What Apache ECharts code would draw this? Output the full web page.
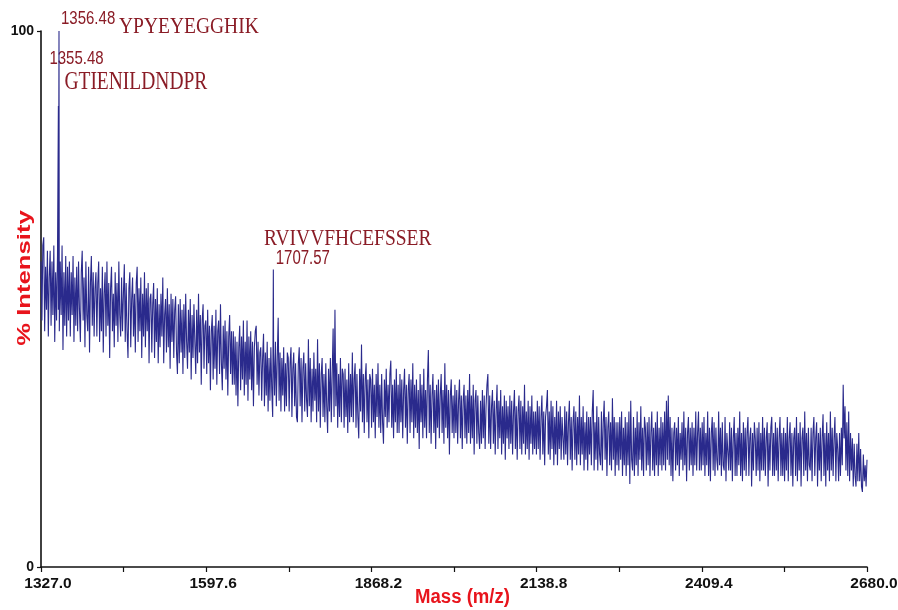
<!DOCTYPE html>
<html>
<head>
<meta charset="utf-8">
<script src="https://cdn.jsdelivr.net/npm/echarts@6/dist/echarts.min.js"></script>
<style>
  html, body { margin: 0; padding: 0; background: #fff; }
  #chart { width: 898px; height: 610px; }
</style>
</head>
<body>
<div id="chart"></div>
<script>
// MALDI-TOF spectrum, % intensity sampled every 1.5 m/z from 1327.0 to 2680.0
const massStart = 1327.0;
const massStep = 1.5;

// 1327.0 – 1550.5
const spectrumA = [
  57, 46, 60, 61.5, 44, 56, 48, 59, 43, 54,  59, 45, 57, 47, 60, 42, 55, 46, 58, 48,  44, 57, 47, 60, 40.5, 55, 45, 58, 43, 56,
  46, 57, 43, 55, 47, 58, 42, 54, 45, 56,  44, 57, 48, 42, 55, 59, 46, 54, 41, 57,  47, 44, 56, 40, 53, 58, 45, 55, 43, 52,
  55, 43, 53, 57, 42, 52, 44, 56, 40, 51,  55, 43, 57, 45, 53, 39, 52, 56, 44, 51,  41, 55, 45, 53, 42, 57, 47, 43, 54, 44,
  51, 56.5, 42, 53, 44, 39, 52, 55, 41, 50,  54, 43, 51, 40, 53, 56, 42, 52, 44, 54,  39, 51, 43, 55, 41, 52, 44, 53, 38, 50,
  51, 40, 49, 53, 39, 50, 42, 52, 38, 49,  41, 51, 43, 54, 38, 47, 50, 40, 52, 41,  49, 37, 51, 42, 50, 39, 48, 50.5, 40, 36
];
// 1552.0 – 1775.5
const spectrumB = [
  49, 38, 50, 40, 48, 36, 49, 39, 51, 42,  37, 48, 40, 50, 35, 47, 39, 49, 42, 36,  48, 38, 51, 40, 47, 34, 46, 49, 37, 45,
  46, 36, 48, 38, 45, 33, 44, 47, 35, 45,  37, 48, 34, 44, 46, 36, 49, 38, 33, 45,  37, 46, 35, 44, 32, 43, 47, 36, 44, 34,
  44, 34, 43, 32, 42, 30, 41, 45, 33, 43,  35, 46, 32, 42, 34, 46, 31, 43, 35, 44,  33, 42, 30, 41, 44, 45, 34, 42, 32, 40,
  41, 31, 39, 43.5, 30, 40, 32, 42, 29, 39,  31, 41, 33, 28, 40, 32, 42, 30, 39, 46.5,  31, 40, 29, 39, 32, 41, 29, 38, 30, 40,
  39, 29, 38, 41, 28, 37, 40, 30, 38, 28,  27, 38, 41, 30, 39, 27, 37, 40, 29, 38,  31, 28, 42.5, 30, 39, 27, 37, 29, 40, 31
];
// 1777.0 – 2000.5
const spectrumC = [
  37, 27, 42.5, 29, 38, 26, 36, 39, 28, 36,  27, 38, 30, 25, 37, 29, 39, 27, 36, 44.5,  28, 48, 30, 38, 26, 36, 28, 39, 27, 37,
  36, 26, 37, 28, 35, 25, 38, 27, 36, 28,  40, 27, 35, 38, 26, 36, 28, 24, 37, 29,  41.5, 27, 36, 25, 35, 38, 27, 35, 24, 36,
  35, 26, 37, 27, 34, 24, 36, 28, 38, 26,  34, 25, 36, 27, 23, 35, 28, 37, 26, 34,  27, 36, 38.5, 26, 34, 24, 35, 27, 37, 25,
  34, 25, 36, 27, 35, 24, 33, 37, 26, 34,  23, 33, 36, 25, 35, 27, 38, 24, 34, 26,  35, 25, 33, 22, 36, 27, 34, 24, 37, 26,
  33, 24, 35, 40.5, 25, 34, 23, 32, 36, 25,  33, 22, 34, 26, 35, 24, 32, 36, 25, 33,  23, 38, 26, 34, 24, 33, 21, 32, 35, 25
];
// 2002.0 – 2225.5
const spectrumD = [
  32, 24, 34, 25, 33, 23, 31, 35, 24, 32,  22, 31, 34, 24, 32, 23, 33, 25, 36, 23,  32, 24, 34, 21, 31, 33, 23, 32, 25, 22,
  31, 23, 33, 24, 32, 22, 30, 34, 36, 23,  32, 22, 30, 33, 23, 31, 21, 29, 34, 22,  31, 24, 33, 21, 30, 23, 32, 20, 31, 24,
  30, 22, 32, 23, 31, 21, 29, 33, 22, 30,  20, 29, 32, 22, 31, 21, 30, 23, 34, 21,  29, 22, 31, 20, 30, 23, 32, 21, 29, 22,
  29, 21, 31, 22, 30, 20, 28, 32, 21, 29,  19, 28, 30, 33, 21, 29, 20, 31, 22, 30,  19, 28, 21, 31, 19, 29, 22, 30, 20, 28,
  28, 20, 30, 21, 29, 19, 27, 31, 20, 28,  18, 27, 30, 20, 29, 19, 28, 21, 32, 19,  28, 21, 30, 18, 27, 20, 29, 18, 28, 21
];
// 2227.0 – 2450.5
const spectrumE = [
  28, 19, 29, 33, 18, 27, 20, 30, 18, 28,  21, 19, 29, 18, 27, 31, 20, 28, 17, 26,  29, 19, 27, 18, 31.5, 20, 28, 17, 27, 19,
  27, 18, 28, 20, 29, 17, 26, 19, 28, 17,  27, 19, 29, 15.5, 31, 20, 18, 28, 17, 26,  19, 29, 17, 27, 20, 30, 18, 26, 17, 28,
  26, 18, 27, 19, 28, 17, 25, 29, 18, 26,  17, 27, 19, 29, 17, 26, 19, 28, 18, 27,  19, 29, 18, 31, 20, 32, 19, 28, 17, 26,
  16, 25, 27, 18, 26, 19, 28, 17, 25, 20,  27, 18, 29, 19, 26, 16, 25, 28, 18, 26,  19, 27, 17, 26, 19, 29, 18, 25, 29, 18,
  26, 18, 27, 19, 28, 17, 25, 19, 29, 17,  26, 16, 25, 28, 18, 27, 17, 26, 20, 18,  29, 19, 26, 17, 27, 19, 18, 28, 16, 25
];
// 2452.0 – 2680.0
const spectrumF = [
  25, 18, 27, 18, 26, 16, 24, 28, 17, 25,  17, 26, 19, 29, 17, 25, 16, 27, 18, 26,  17, 25, 28, 17, 24, 26, 15, 25, 18, 27,
  24, 17, 26, 18, 27, 16, 25, 18, 28, 18,  26, 17, 24, 27, 15, 25, 18, 26, 28, 17,  25, 17, 27, 18, 26, 16, 24, 28, 17, 25,
  17, 26, 16, 25, 18, 28, 16, 24, 27, 17,  25, 15, 24, 26, 17, 28, 16, 25, 18, 27,  15, 24, 26, 17, 29, 18, 25, 16, 26, 19,
  18, 26, 16, 25, 28, 17, 24, 27, 15, 25,  18, 26, 16, 24, 28.5, 17, 25, 15, 27, 18,  25, 16, 29, 18, 26, 17, 24, 28, 16, 25,
  22, 16, 25, 17, 26, 19, 34, 24, 30, 18,  27, 17, 29, 16, 25, 18, 24, 15, 23, 17,  15, 23, 16, 25, 16, 22, 15, 14, 21, 16,
  19, 15, 20
];

// identified peptide peaks
const peakMass = [1355.48, 1356.48, 1707.57];
const peakIntensity = [86, 100, 55.5];
const peakPeptide = ['GTIENILDNDPR', 'YPYEYEGGHIK', 'RVIVVFHCEFSSER'];

// axis ticks
const xTickMass = [1327.0, 1462.3, 1597.6, 1732.9, 1868.2, 2003.5, 2138.8, 2274.1, 2409.4, 2544.7, 2680.0];
const xLabelMass = [1327.0, 1597.6, 1868.2, 2138.8, 2409.4, 2680.0];
const yLabelValues = [0, 100];

const INK = '#2a2a8c';
const RED = '#e8141c';
const MAROON = '#8a1c26';

// merge sampled trace and the annotated peaks into one ordered trace
const sampled = [].concat(spectrumA, spectrumB, spectrumC, spectrumD, spectrumE, spectrumF)
  .map((v, i) => [massStart + i * massStep, v]);
const peaks = peakMass.map((m, i) => [m, peakIntensity[i]]);
const trace = sampled.concat(peaks).sort((a, b) => a[0] - b[0]);

const chart = echarts.init(document.getElementById('chart'), null, { renderer: 'canvas' });

chart.setOption({
  animation: false,
  backgroundColor: '#fff',
  grid: { left: 41, right: 31, top: 31, bottom: 43, containLabel: false, outerBoundsMode: 'none' },
  xAxis: {
    type: 'value',
    min: 1327.0,
    max: 2680.0,
    axisLine: { show: true, onZero: false, lineStyle: { color: '#111', width: 1.6 } },
    axisTick: { show: true, customValues: xTickMass, length: 5, lineStyle: { color: '#111', width: 1.2 } },
    axisLabel: {
      customValues: xLabelMass,
      formatter: v => v.toFixed(1),
      color: '#111',
      fontWeight: 'bold',
      fontSize: 15.5,
      fontFamily: '"Liberation Sans", sans-serif',
      margin: 9,
      padding: [0, 0, 0, 14]
    },
    splitLine: { show: false }
  },
  yAxis: {
    type: 'value',
    min: 0,
    max: 100,
    axisLine: { show: true, lineStyle: { color: '#111', width: 1.6 } },
    axisTick: { show: true, customValues: yLabelValues, length: 4, lineStyle: { color: '#111', width: 1.2 } },
    axisLabel: {
      customValues: yLabelValues,
      color: '#111',
      fontWeight: 'bold',
      fontSize: 14,
      fontFamily: '"Liberation Sans", sans-serif',
      margin: 7
    },
    splitLine: { show: false }
  },
  series: [{
    type: 'line',
    data: trace,
    showSymbol: false,
    symbol: 'none',
    sampling: false,
    lineStyle: { color: INK, width: 1.1, join: 'bevel' },
    silent: true
  }]
});

// annotations placed from the peak positions on the axes
function toPx(m, v) { return chart.convertToPixel({ gridIndex: 0 }, [m, v]); }
const pTop = toPx(peakMass[1], peakIntensity[1]);
const pLow = toPx(peakMass[0], peakIntensity[0]);
const pMid = toPx(peakMass[2], peakIntensity[2]);

const massFont = '15px "Liberation Sans", sans-serif';
const pepFont = '19.5px "Liberation Serif", serif';

function label(text, x, y, font, sy) {
  return {
    type: 'text', x: x, y: y, scaleY: sy, silent: true,
    style: { text: text, font: font, fill: MAROON, align: 'left', verticalAlign: 'middle', textAlign: 'left', textVerticalAlign: 'middle' }
  };
}

chart.setOption({
  graphic: [
    label(peakMass[1].toFixed(2), pTop[0] + 2, pTop[1] - 12, massFont, 1.22),
    label(peakPeptide[1], pTop[0] + 60, pTop[1] - 4.5, pepFont, 1.2),
    label(peakMass[0].toFixed(2), pLow[0] - 9, pTop[1] + 27.5, massFont, 1.22),
    label(peakPeptide[0], pLow[0] + 6, pTop[1] + 52, pepFont, 1.25),
    label(peakPeptide[2], pMid[0] - 9.3, pMid[1] - 30.5, pepFont, 1.15),
    label(peakMass[2].toFixed(2), pMid[0] + 2.4, pMid[1] - 10.5, massFont, 1.3),
    {
      type: 'text', x: 25, y: 278, rotation: Math.PI / 2, scaleX: 1.35, silent: true,
      style: { text: '% Intensity', font: 'bold 19px "Liberation Sans", sans-serif', fill: RED,
               align: 'center', verticalAlign: 'middle', textAlign: 'center', textVerticalAlign: 'middle' }
    },
    {
      type: 'text', x: 462.5, y: 597, scaleY: 1.08, silent: true,
      style: { text: 'Mass (m/z)', font: 'bold 18.6px "Liberation Sans", sans-serif', fill: RED,
               align: 'center', verticalAlign: 'middle', textAlign: 'center', textVerticalAlign: 'middle' }
    }
  ]
});
</script>
</body>
</html>
